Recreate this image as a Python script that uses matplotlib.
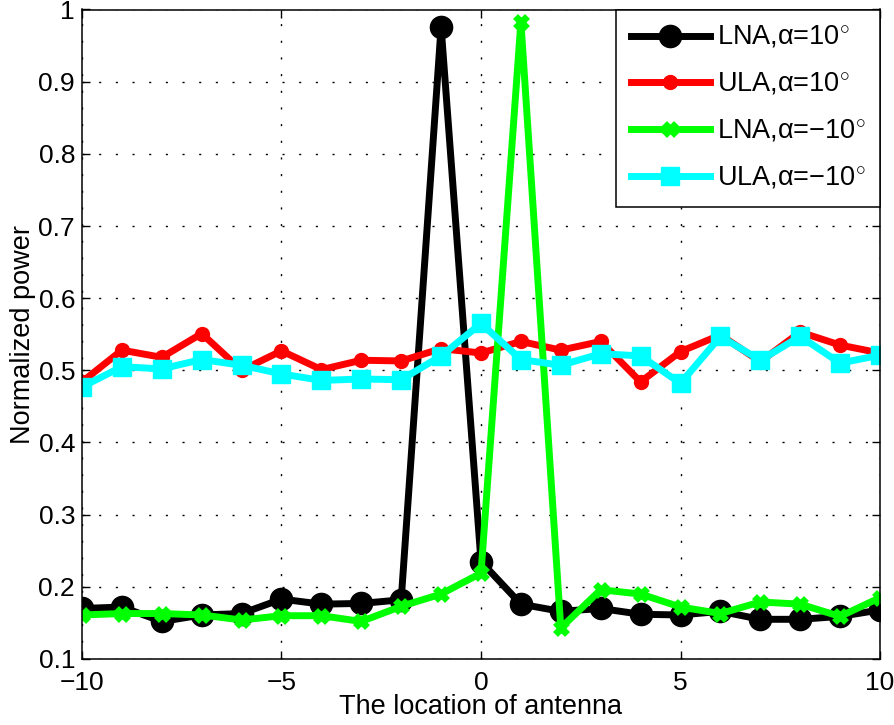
import numpy as np
import matplotlib.pyplot as plt

plt.rcParams['font.family'] = ['Liberation Sans', 'DejaVu Sans']
plt.rcParams['mathtext.fontset'] = 'custom'
plt.rcParams['mathtext.rm'] = 'Liberation Sans'

# Data
x = np.arange(-10, 11)
lna_pos = [0.170, 0.172, 0.152, 0.161, 0.163, 0.183, 0.176, 0.177, 0.182, 0.976, 0.235,
           0.176, 0.166, 0.170, 0.162, 0.161, 0.166, 0.155, 0.155, 0.159, 0.168]
ula_pos = [0.484, 0.528, 0.518, 0.551, 0.500, 0.527, 0.501, 0.514, 0.513, 0.530, 0.524,
           0.540, 0.528, 0.540, 0.484, 0.526, 0.549, 0.512, 0.553, 0.535, 0.524]
lna_neg = [0.161, 0.163, 0.163, 0.161, 0.154, 0.160, 0.160, 0.152, 0.173, 0.190, 0.219,
           0.983, 0.143, 0.196, 0.190, 0.172, 0.163, 0.179, 0.176, 0.159, 0.185]
ula_neg = [0.477, 0.505, 0.502, 0.515, 0.507, 0.495, 0.486, 0.488, 0.487, 0.520, 0.565,
           0.515, 0.507, 0.523, 0.520, 0.482, 0.547, 0.514, 0.547, 0.510, 0.521]
labels = ['LNA,α=10$^{\\circ}$', 'ULA,α=10$^{\\circ}$',
          'LNA,α=\u221210$^{\\circ}$', 'ULA,α=\u221210$^{\\circ}$']

xticks = [-10, -5, 0, 5, 10]
xticklabels = ['\u221210', '\u22125', '0', '5', '10']
yticks = [0.1, 0.2, 0.3, 0.4, 0.5, 0.6, 0.7, 0.8, 0.9, 1.0]
yticklabels = ['0.1', '0.2', '0.3', '0.4', '0.5', '0.6', '0.7', '0.8', '0.9', '1']

fig = plt.figure(figsize=(8.95, 7.25), dpi=100)
ax = fig.add_axes([82 / 895, 66 / 725, 798 / 895, 649.5 / 725])

lw = 5
ax.plot(x, lna_pos, color='black', lw=lw, marker='o', ms=16, label=labels[0])
ax.plot(x, ula_pos, color='red', lw=lw, marker='o', ms=10, label=labels[1])
ax.plot(x, lna_neg, color='#00ff00', lw=lw, marker='x', ms=8, mew=5, label=labels[2])
ax.plot(x, ula_neg, color='cyan', lw=lw, marker='s', ms=13, label=labels[3])

ax.set_xlim(-10, 10)
ax.set_ylim(0.1, 1)
ax.set_xticks(xticks)
ax.set_xticklabels(xticklabels)
ax.set_yticks(yticks)
ax.set_yticklabels(yticklabels)
ax.tick_params(direction='in', length=6, width=1, labelsize=19, top=True, right=True)
ax.tick_params(axis='x', pad=9)
ax.tick_params(axis='y', pad=5)
for s in ax.spines.values():
    s.set_linewidth(1.1)

ax.grid(True, color='black', lw=1, linestyle=(0, (1.5, 10.5)))

ax.set_xlabel('The location of antenna', fontsize=19.5, labelpad=-1)
ax.set_ylabel('Normalized power', fontsize=19.5, labelpad=2)

leg = ax.legend(loc='upper right', fontsize=19.5, borderaxespad=0, handlelength=2.9,
                labelspacing=0.75, fancybox=False, framealpha=1, edgecolor='black',
                borderpad=0.55, handletextpad=0.25)
leg.get_frame().set_linewidth(1.1)

fig.savefig('out.png')
